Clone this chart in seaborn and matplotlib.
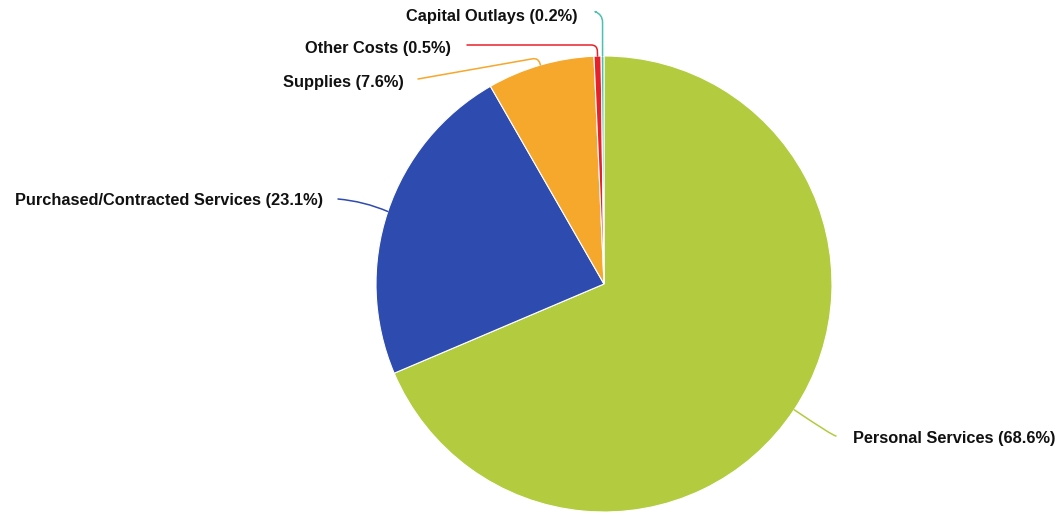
import matplotlib
matplotlib.use("Agg")
import matplotlib.pyplot as plt
import seaborn as sns
import numpy as np

sns.set_theme(style="white")
plt.rcParams["font.family"] = ["Liberation Sans", "DejaVu Sans"]

categories = ["Personal Services", "Purchased/Contracted Services", "Supplies",
              "Other Costs", "Capital Outlays"]
shares = [68.6, 23.1, 7.6, 0.5, 0.2]
colors = ["#B3CB3F", "#2E4BAF", "#F5A82B", "#E8202A", "#4BC0B0"]

W, H = 1063, 515
fig = plt.figure(figsize=(W / 100, H / 100), dpi=100)
ax = fig.add_axes([0, 0, 1, 1])

cx, cy, r = 604, H - 284, 228
wedges, _ = ax.pie(shares, colors=colors, startangle=90, counterclock=False,
                   center=(cx, cy), radius=r, frame=True,
                   wedgeprops=dict(edgecolor="white", linewidth=0.8))
ax.set_xlim(0, W)
ax.set_ylim(0, H)
ax.set_aspect("equal")
ax.axis("off")

# label anchors (text x, text y, ha) and connector end points, in pixel space
label_pos = [(853, 438, "left"), (323, 201, "right"), (404, 82, "right"),
             (451, 48, "right"), (578, 17, "right")]
line_end = [(836, 436), (338, 199), (418, 79), (467, 45), (596, 12)]
styles = ["angle3,angleA=0,angleB=146",
          "arc3,rad=-0.08",
          "angle,angleA=10,angleB=106,rad=6",
          "angle,angleA=0,angleB=92,rad=6",
          "angle,angleA=-20,angleB=90,rad=8"]

for w, name, val, col, (tx, ty, ha), (ex, ey), cs in zip(
        wedges, categories, shares, colors, label_pos, line_end, styles):
    mid = np.deg2rad((w.theta1 + w.theta2) / 2)
    px, py = cx + r * np.cos(mid), cy + r * np.sin(mid)
    ax.annotate("", xy=(px, py), xytext=(ex, H - ey),
                arrowprops=dict(arrowstyle="-", color=col, lw=1.1,
                                connectionstyle=cs, shrinkA=0, shrinkB=0))
    ax.text(tx, H - ty, f"{name} ({val}%)", ha=ha, va="center",
            fontsize=11.8, fontweight="bold", color="#111111")

fig.savefig("out.png", dpi=100, facecolor="white")
